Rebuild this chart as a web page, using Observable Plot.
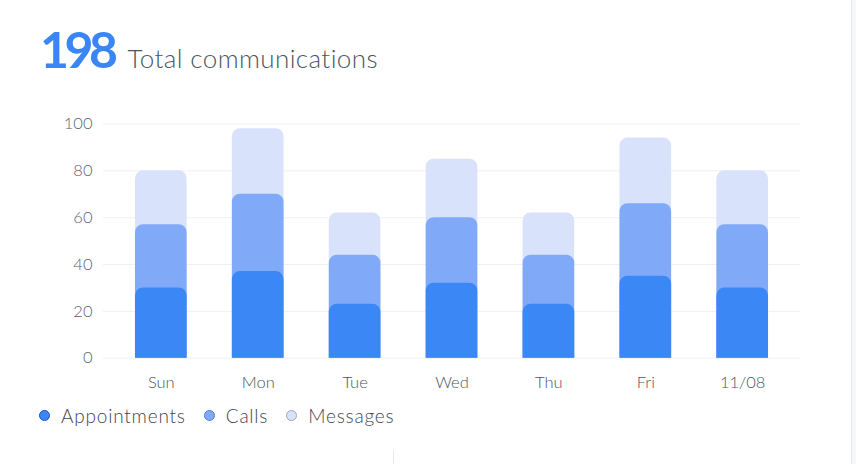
<!DOCTYPE html>
<html><head><meta charset="utf-8">
<script src="https://cdn.jsdelivr.net/npm/d3@7"></script>
<script src="https://cdn.jsdelivr.net/npm/@observablehq/plot@0.6"></script>
<style>
html,body{margin:0;padding:0;background:#fff;}
body{width:856px;height:464px;overflow:hidden;position:relative;font-family:Lato,"Noto Sans",sans-serif;}
#title{position:absolute;left:40px;top:24px;display:flex;align-items:baseline;white-space:nowrap;}
#title .big{font-size:50px;font-weight:700;color:#3b86f6;letter-spacing:-4.5px;line-height:1;}
#title .sub{font-size:26px;font-weight:300;color:#4b5563;margin-left:14px;line-height:1;letter-spacing:0.4px;}
#chart{position:absolute;left:0;top:95px;}
#legend{position:absolute;left:39px;top:404px;display:flex;align-items:center;font-size:19px;font-weight:300;color:#3f4652;white-space:nowrap;letter-spacing:0.8px;}
#legend .item{display:flex;align-items:center;margin-right:18px;}
#legend .dot{width:11px;height:11px;border-radius:50%;margin-right:11px;box-sizing:border-box;}
.edge{position:absolute;left:851px;top:0;width:5px;height:464px;background:#f5f6f8;border-left:1px solid #e8e9ec;box-sizing:border-box;}
.stub{position:absolute;left:393px;top:450px;width:1px;height:14px;background:#e5e7eb;}
svg text{font-weight:300;}
</style></head><body>
<div id="title"></div>
<div id="chart"></div>
<div id="legend"></div>
<div class="edge"></div><div class="stub"></div>
<script>
// ---- data ----
const totalValue = 198;
const titleText = "Total communications";
const days = ["Sun", "Mon", "Tue", "Wed", "Thu", "Fri", "11/08"];
const appointments = [30, 37, 23, 32, 23, 35, 30];
const calls = [27, 33, 21, 28, 21, 31, 27];
const messages = [23, 28, 18, 25, 18, 28, 23];
const seriesNames = ["Appointments", "Calls", "Messages"];
const seriesColors = ["#3b87f6", "#80aaf8", "#d9e2fb"];
const seriesStrokes = ["#1d4ed8", "#4f7fd6", "#9aa8c8"];
const yTicks = [0, 20, 40, 60, 80, 100];

// ---- title ----
const t = document.getElementById("title");
t.innerHTML = `<span class="big">${totalValue}</span><span class="sub">${titleText}</span>`;

// ---- layered (overlapping, from zero) bars ----
const series = [appointments, calls, messages];
const layers = [];
for (let k = series.length - 1; k >= 0; k--) {
  const rows = days.map((d, i) => {
    let top = 0;
    for (let j = 0; j <= k; j++) top += series[j][i];
    return {day: d, value: top, series: seriesNames[k]};
  });
  layers.push(Plot.barY(rows, {x: "day", y: "value", fill: seriesColors[k], ry1: 8}));
}

const chart = Plot.plot({
  width: 856,
  height: 305,
  marginTop: 25,
  marginBottom: 42.3,
  marginLeft: 103,
  marginRight: 56,
  style: {fontFamily: "Lato, 'Noto Sans', sans-serif", fontSize: "16px", background: "transparent"},
  x: {domain: days, paddingInner: 0.467, paddingOuter: 0.33, round: false, label: null},
  y: {domain: [0, 101.5], label: null},
  marks: [
    Plot.gridY(yTicks, {stroke: "#eef0f3", strokeOpacity: 1, strokeWidth: 1}),
    ...layers,
    Plot.axisX({tickSize: 0, tickPadding: 18, fontSize: 16.5, color: "#4b5563", label: null}),
    Plot.axisY(yTicks, {tickSize: 0, tickPadding: 11, fontSize: 16.5, color: "#5b6170", label: null})
  ]
});
document.getElementById("chart").appendChild(chart);

// ---- legend ----
const lg = document.getElementById("legend");
seriesNames.forEach((n, i) => {
  const it = document.createElement("div");
  it.className = "item";
  it.innerHTML = `<span class="dot" style="background:${seriesColors[i]};border:1px solid ${seriesStrokes[i]}"></span><span>${n}</span>`;
  lg.appendChild(it);
});
</script>
</body></html>
